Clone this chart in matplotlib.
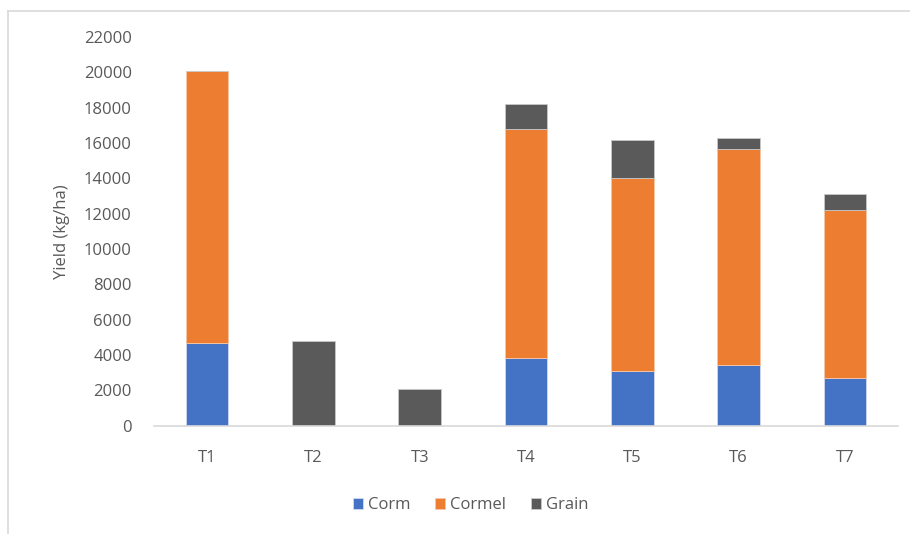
import matplotlib.pyplot as plt
from matplotlib.lines import Line2D
import numpy as np

plt.rcParams['font.family'] = ['Open Sans', 'DejaVu Sans']

treatments = ['T1', 'T2', 'T3', 'T4', 'T5', 'T6', 'T7']
corm = [4680, 0, 0, 3835, 3080, 3405, 2670]
cormel = [15420, 0, 0, 12975, 10955, 12230, 9555]
grain = [0, 4800, 2050, 1370, 2125, 640, 865]
yticks = list(range(0, 22001, 2000))

fig = plt.figure(figsize=(9.1, 5.34), dpi=100)
ax = fig.add_axes([154 / 910, 1 - 425.5 / 534, 744 / 910, 388.5 / 534])

x = np.arange(len(treatments))
w = 0.4
corm_a = np.array(corm)
cormel_a = np.array(cormel)
ax.bar(x, corm, w, color='#4472c4', label='Corm', edgecolor='#d0daf0', linewidth=0.6)
ax.bar(x, cormel, w, bottom=corm_a, color='#ed7d31', label='Cormel', edgecolor='#f6c7a6', linewidth=0.6)
ax.bar(x, grain, w, bottom=corm_a + cormel_a, color='#5a5a5a', label='Grain', edgecolor='#c8c8c8', linewidth=0.6)

ax.set_xlim(-0.5, len(treatments) - 0.5)
ax.set_ylim(0, 22000)
ax.set_yticks(yticks)
ax.set_xticks(x)
ax.set_xticklabels(treatments)
ax.tick_params(axis='both', length=0, labelsize=12, labelcolor='#595959')
ax.tick_params(axis='y', pad=16)
ax.tick_params(axis='x', pad=18)
for s in ['top', 'right', 'left']:
    ax.spines[s].set_visible(False)
ax.spines['bottom'].set_color('#d9d9d9')
ax.spines['bottom'].set_linewidth(1.2)

ax.set_ylabel('Yield (kg/ha)', fontsize=12, color='#595959', labelpad=10)

ax.legend(loc='center', bbox_to_anchor=(0.426, -0.205), ncol=3, frameon=False,
          fontsize=12, labelcolor='#595959', handlelength=0.6, handleheight=0.6,
          handletextpad=0.3, columnspacing=1.5)

# outer chart border (top and left visible)
fig.add_artist(Line2D([8 / 910, 8 / 910], [0, 1 - 11 / 534], color='#d9d9d9', lw=1.2))
fig.add_artist(Line2D([8 / 910, 1], [1 - 11 / 534, 1 - 11 / 534], color='#d9d9d9', lw=1.2))

fig.savefig('out.png', dpi=100)
